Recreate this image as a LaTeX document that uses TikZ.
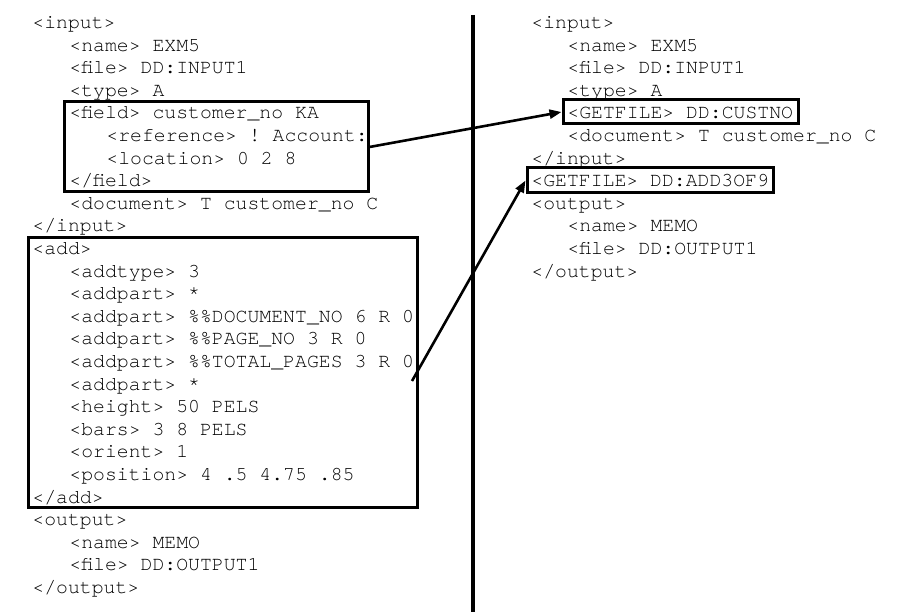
\documentclass[tikz,border=0pt]{standalone}
\usepackage{fontspec}
\setmonofont{TeX Gyre Cursor}
\usetikzlibrary{fit,arrows.meta}

\tikzset{
  code/.style={font=\ttfamily\fontsize{9.9}{11.3}\selectfont,anchor=base west,inner sep=0pt},
  hilite/.style={draw,line width=1.5pt,inner sep=0pt},
  link/.style={line width=1.3pt,-{Triangle[length=6pt,width=4.5pt]}}
}

\begin{document}
\begin{tikzpicture}[x=0.5pt,y=-0.5pt]
\useasboundingbox (0,0) rectangle (900,615);

% left column
\node[code] (a0) at (32,28.5) {<input>};
\node[code] (a1) at (69,51.1) {<name> EXM5};
\node[code] (a2) at (69,73.7) {<file> DD:INPUT1};
\node[code] (a3) at (69,96.3) {<type> A};
\node[code] (a4) at (69,118.9) {<field> customer\_no KA};
\node[code] (a5) at (106,141.5) {<reference> ! Account:};
\node[code] (a6) at (106,164.1) {<location> 0 2 8};
\node[code] (a7) at (69,186.7) {</field>};
\node[code] (a8) at (69,209.3) {<document> T customer\_no C};
\node[code] (a9) at (32,231.9) {</input>};
\node[code] (a10) at (32,254.5) {<add>};
\node[code] (a11) at (69,277.1) {<addtype> 3};
\node[code] (a12) at (69,299.7) {<addpart> *};
\node[code] (a13) at (69,322.3) {<addpart> \%\%DOCUMENT\_NO 6 R 0};
\node[code] (a14) at (69,344.9) {<addpart> \%\%PAGE\_NO 3 R 0};
\node[code] (a15) at (69,367.5) {<addpart> \%\%TOTAL\_PAGES 3 R 0};
\node[code] (a16) at (69,390.1) {<addpart> *};
\node[code] (a17) at (69,412.7) {<height> 50 PELS};
\node[code] (a18) at (69,435.3) {<bars> 3 8 PELS};
\node[code] (a19) at (69,457.9) {<orient> 1};
\node[code] (a20) at (69,480.5) {<position> 4 .5 4.75 .85};
\node[code] (a21) at (32,503.1) {</add>};
\node[code] (a22) at (32,525.7) {<output>};
\node[code] (a23) at (69,548.3) {<name> MEMO};
\node[code] (a24) at (69,570.9) {<file> DD:OUTPUT1};
\node[code] (a25) at (32,593.5) {</output>};

% right column
\node[code] (b0) at (531,28.5) {<input>};
\node[code] (b1) at (567,51.1) {<name> EXM5};
\node[code] (b2) at (567,73.7) {<file> DD:INPUT1};
\node[code] (b3) at (567,96.3) {<type> A};
\node[code] (b4) at (567,118.9) {<GETFILE> DD:CUSTNO};
\node[code] (b5) at (567,141.5) {<document> T customer\_no C};
\node[code] (b6) at (531,164.1) {</input>};
\node[code] (b7) at (531,186.7) {<GETFILE> DD:ADD3OF9};
\node[code] (b8) at (531,209.3) {<output>};
\node[code] (b9) at (567,231.9) {<name> MEMO};
\node[code] (b10) at (567,254.5) {<file> DD:OUTPUT1};
\node[code] (b11) at (531,277.1) {</output>};

% boxes
\node[hilite,fit={(64,102) (368,192)}] (fieldbox) {};
\node[hilite,fit={(28,237) (417,507)}] (addbox) {};
\node[hilite,fit={(563,100) (798,124)}] (custno) {};
\node[hilite,fit={(527,168) (773,193)}] (add3of9) {};

% divider
\coordinate (top) at (473,15);
\coordinate (bottom) at (473,612);
\draw[line width=1.6pt] (top) -- (bottom);

% arrows
\coordinate (tail) at (412,381);
\draw[link] (fieldbox.east) -- (custno.west);
\draw[link] (tail) -- (add3of9.west);

\end{tikzpicture}
\end{document}
